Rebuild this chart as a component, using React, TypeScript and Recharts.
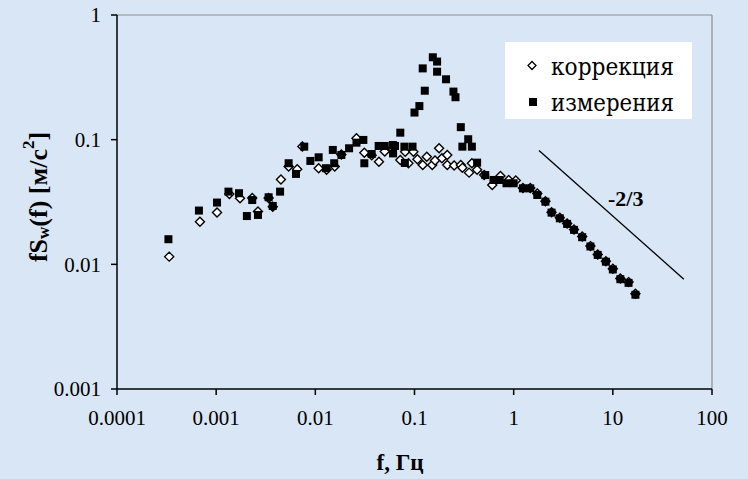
import React from 'react';
import { ScatterChart, Scatter, XAxis, YAxis, ReferenceLine, ReferenceDot, Label } from 'recharts';

// коррекция (open diamonds)
const corrF = [0.000336, 0.000686, 0.00102, 0.00136, 0.00174, 0.00231, 0.00264, 0.00338, 0.00372, 0.0045, 0.00538, 0.00657, 0.0074, 0.0108, 0.013, 0.0157, 0.0183, 0.026, 0.0312, 0.037, 0.0438, 0.0501, 0.0594, 0.0719, 0.0805, 0.0869, 0.0975, 0.107, 0.121, 0.133, 0.151, 0.161, 0.177, 0.189, 0.214, 0.214, 0.251, 0.293, 0.304, 0.355, 0.379, 0.428, 0.504, 0.608, 0.736, 0.891, 1.05, 1.24, 1.47, 1.73, 2.09, 2.41, 2.92, 3.46, 4.06, 4.91, 5.94, 7.04, 8.51, 10, 11.9, 14.4, 16.9];
const corrV = [0.01153, 0.022, 0.026, 0.0367, 0.0339, 0.034, 0.0265, 0.034, 0.029, 0.048, 0.0608, 0.058, 0.088, 0.059, 0.0573, 0.0608, 0.076, 0.1026, 0.0787, 0.075, 0.0666, 0.0802, 0.085, 0.0687, 0.08, 0.0647, 0.08, 0.0697, 0.0627, 0.073, 0.0627, 0.068, 0.0853, 0.071, 0.0754, 0.0627, 0.062, 0.0627, 0.0594, 0.0544, 0.0647, 0.0573, 0.052, 0.0433, 0.0512, 0.0475, 0.047, 0.041, 0.041, 0.037, 0.032, 0.0262, 0.0236, 0.0213, 0.019, 0.0167, 0.014, 0.012, 0.0106, 0.0092, 0.0077, 0.0072, 0.0058];

// измерения (filled squares)
const measF = [0.00033, 0.00067, 0.00102, 0.00133, 0.0017, 0.00204, 0.00231, 0.00264, 0.00338, 0.00372, 0.00441, 0.00538, 0.00638, 0.00773, 0.00891, 0.0108, 0.0128, 0.015, 0.0155, 0.0183, 0.0219, 0.026, 0.0305, 0.0312, 0.037, 0.0435, 0.0501, 0.0605, 0.0608, 0.0636, 0.0719, 0.0791, 0.08, 0.0955, 0.1, 0.112, 0.127, 0.121, 0.153, 0.169, 0.169, 0.208, 0.247, 0.259, 0.293, 0.348, 0.304, 0.379, 0.428, 0.517, 0.626, 0.72, 0.847, 1.0, 1.24, 1.47, 1.73, 2.09, 2.41, 2.92, 3.46, 4.06, 4.91, 5.94, 7.04, 8.51, 10, 11.9, 14.4, 16.9];
const measV = [0.0159, 0.027, 0.0313, 0.0383, 0.0372, 0.0244, 0.0328, 0.0249, 0.0345, 0.0294, 0.0383, 0.0647, 0.0531, 0.0879, 0.0675, 0.0722, 0.059, 0.0827, 0.0647, 0.0754, 0.0853, 0.0946, 0.0995, 0.0647, 0.0767, 0.089, 0.089, 0.0906, 0.0776, 0.089, 0.1138, 0.0879, 0.065, 0.0879, 0.165, 0.186, 0.247, 0.373, 0.458, 0.423, 0.351, 0.305, 0.243, 0.219, 0.126, 0.1008, 0.0879, 0.0879, 0.0654, 0.052, 0.0475, 0.0475, 0.0447, 0.0447, 0.0407, 0.0407, 0.036, 0.0318, 0.026, 0.0234, 0.0211, 0.0189, 0.0165, 0.0139, 0.0119, 0.0105, 0.0091, 0.0076, 0.0071, 0.0057];

// -2/3 slope guide line
const slopeF = [1.8, 52];
const slopeV = [0.082, 0.0076];
const slopeLabel = '-2/3';
const slopeLabelF = 13.5;
const slopeLabelV = 0.034;

const xTicks = [0.0001, 0.001, 0.01, 0.1, 1, 10, 100];
const yTicks = [0.001, 0.01, 0.1, 1];
const seriesNames = ['коррекция', 'измерения'];

const corrData = corrF.map((f, i) => ({ f, v: corrV[i] }));
const measData = measF.map((f, i) => ({ f, v: measV[i] }));

const FONT = "'Liberation Serif', 'Times New Roman', serif";
const LEGEND_FONT = "'DejaVu Serif Condensed', 'DejaVu Serif', serif";

const DiamondShape = (p: any) => {
  const { cx, cy } = p;
  const r = 4.5;
  return <path d={`M${cx},${cy - r}L${cx + r},${cy}L${cx},${cy + r}L${cx - r},${cy}Z`} fill="#fff" stroke="#000" strokeWidth={1.4} />;
};
const SquareShape = (p: any) => {
  const { cx, cy } = p;
  return <rect x={cx - 4} y={cy - 4} width={8} height={8} fill="#000" />;
};

// Legend box drawn as SVG (positioned over the plot's upper-right corner)
const LegendBox = () => (
  <svg width={187} height={77} style={{ position: 'absolute', left: 505, top: 42 }}>
    <rect x={0} y={0} width={187} height={77} fill="#fff" />
    <path d="M27,19.5L31,23.5L27,27.5L23,23.5Z" fill="#fff" stroke="#000" strokeWidth={1.3} />
    <text x={46} y={33} fontFamily={LEGEND_FONT} fontSize={24} fill="#000" textLength={123} lengthAdjust="spacingAndGlyphs">{seriesNames[0]}</text>
    <rect x={24} y={56} width={8} height={8} fill="#000" />
    <text x={46} y={69} fontFamily={LEGEND_FONT} fontSize={24} fill="#000" textLength={123} lengthAdjust="spacingAndGlyphs">{seriesNames[1]}</text>
  </svg>
);

export default function App() {
  return (
    <div style={{ position: 'absolute', left: 0, top: 0, width: 748, height: 479, background: '#d9e6f5', overflow: 'hidden' }}>
      <ScatterChart width={748} height={479} margin={{ top: 15, right: 36, left: 0, bottom: 0 }}>
        <XAxis
          type="number"
          dataKey="f"
          scale="log"
          domain={[0.0001, 100]}
          ticks={xTicks}
          tickFormatter={(v: number) => String(v)}
          allowDataOverflow
          height={90}
          stroke="#000"
          strokeWidth={1.5}
          tickSize={6}
          tickMargin={15}
          tick={{ fill: '#000', fontSize: 21, fontFamily: FONT }}
        >
          <Label content={() => (
            <text x={400} y={462} textAnchor="middle" dominantBaseline="central" fontFamily={FONT} fontWeight="bold" fontSize={23} fill="#000">f, Гц</text>
          )} />
        </XAxis>
        <YAxis
          type="number"
          dataKey="v"
          scale="log"
          domain={[0.001, 1]}
          ticks={yTicks}
          tickFormatter={(v: number) => String(v)}
          allowDataOverflow
          width={117}
          stroke="#000"
          strokeWidth={1.5}
          tickSize={6}
          tickMargin={10}
          tick={{ fill: '#000', fontSize: 21, fontFamily: FONT }}
        >
          <Label content={() => (
            <text x={38} y={197} transform="rotate(-90, 38, 197)" textAnchor="middle" dominantBaseline="central" fontFamily={FONT} fontWeight="bold" fontSize={26} fill="#000">
              fS<tspan fontSize={17} dy={5}>w</tspan><tspan dy={-5}>(f) [м/с</tspan><tspan fontSize={17} dy={-10}>2</tspan><tspan dy={10}>]</tspan>
            </text>
          )} />
        </YAxis>
        <ReferenceLine y={1} stroke="#8c8c8c" strokeWidth={1.2} ifOverflow="visible" />
        <ReferenceLine x={100} stroke="#8c8c8c" strokeWidth={1.2} ifOverflow="visible" />
        <ReferenceLine
          segment={[{ x: slopeF[0], y: slopeV[0] }, { x: slopeF[1], y: slopeV[1] }]}
          stroke="#000"
          strokeWidth={1.3}
          ifOverflow="visible"
        />
        <ReferenceDot
          x={slopeLabelF}
          y={slopeLabelV}
          r={0}
          fill="none"
          stroke="none"
          ifOverflow="visible"
          label={(props: any) => {
            const vb = props.viewBox || {};
            const x = (vb.x ?? 0) + (vb.width ?? 0) / 2;
            const y = (vb.y ?? 0) + (vb.height ?? 0) / 2;
            return <text x={x} y={y} textAnchor="middle" dominantBaseline="central" fontFamily={FONT} fontWeight="bold" fontSize={22} fill="#000">{slopeLabel}</text>;
          }}
        />
        <Scatter name={seriesNames[0]} data={corrData} shape={DiamondShape} isAnimationActive={false} />
        <Scatter name={seriesNames[1]} data={measData} shape={SquareShape} isAnimationActive={false} />
      </ScatterChart>
      <LegendBox />
    </div>
  );
}
